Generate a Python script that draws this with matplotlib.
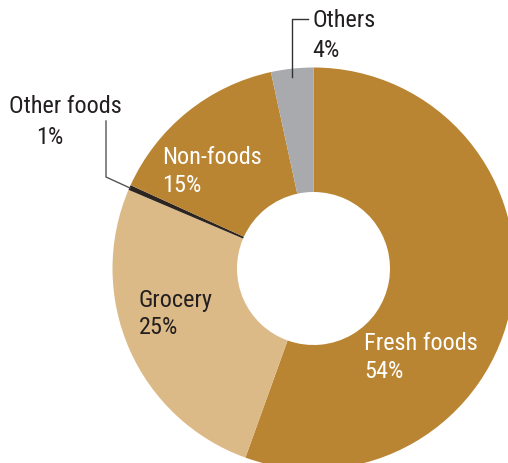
import matplotlib
matplotlib.use('agg')
import matplotlib.pyplot as plt
from matplotlib import font_manager

# wedge sizes (clockwise from 12 o'clock)
segments = ["Fresh foods", "Grocery", "Other foods", "Non-foods", "Others"]
shares = [55.5, 25.9, 0.4, 14.8, 3.4]
share_labels = ["54%", "25%", "1%", "15%", "4%"]
colors = ["#BA8532", "#DBBA88", "#2B2420", "#BA8532", "#A8AAAD"]

names = {f.name for f in font_manager.fontManager.ttflist}
wanted = ["Roboto Condensed", "Archivo Narrow", "PT Sans Narrow",
          "Liberation Sans Narrow", "Open Sans Condensed", "Roboto"]
chosen = next(n for n in wanted if n in names)
plt.rcParams['font.family'] = [chosen, "DejaVu Sans"]

W, H = 508, 464
cx, cy, R = 313.5, 269.5, 201.0

fig = plt.figure(figsize=(W / 100, H / 100), dpi=100)
ax = fig.add_axes([0, 0, 1, 1])

ax.pie(shares, colors=colors, startangle=90, counterclock=False,
       radius=1.0, wedgeprops=dict(width=1 - 76.5 / R, linewidth=0))

ax.set_aspect('auto')
ax.set_xlim(-cx / R, (W - cx) / R)
ax.set_ylim(-(H - cy) / R, cy / R)
ax.axis('off')


def px(x, y):
    # pixel position in the reference -> data coordinates
    return (x - cx) / R, (cy - y) / R


fs = 17.5
dark = "#231F20"

# (name x, name y, pct x, pct y, colour) for each segment
spots = {
    "Fresh foods": (364, 343, 364, 372, "white"),
    "Grocery": (139, 300, 139, 328, dark),
    "Non-foods": (162, 157, 162, 186, "white"),
    "Others": (312, 20, 312, 50, dark),
    "Other foods": (9, 106, 36, 137, dark),
}
for name, pct in zip(segments, share_labels):
    nx, ny, qx, qy, c = spots[name]
    ax.text(*px(nx, ny), name, fontsize=fs, color=c, ha='left', va='center')
    ax.text(*px(qx, qy), pct, fontsize=fs, color=c, ha='left', va='center')

# leader lines
xs, ys = zip(*[px(106, 122), px(106, 178), px(130, 189)])
ax.plot(xs, ys, color="#555555", linewidth=1.0)
xs, ys = zip(*[px(308, 20), px(292, 20), px(292, 78)])
ax.plot(xs, ys, color="#333333", linewidth=1.0)

fig.savefig("out.png", dpi=100)
plt.close(fig)
